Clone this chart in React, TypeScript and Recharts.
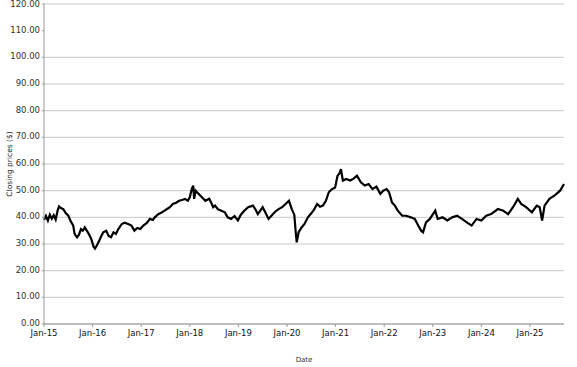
import React from "react";
import {
  LineChart,
  Line,
  XAxis,
  YAxis,
  CartesianGrid,
} from "recharts";

// years since Jan 2015
const yearsSince2015 = [
  0.0, 0.04, 0.08, 0.12, 0.16, 0.2, 0.24, 0.28, 0.31, 0.35, 0.4, 0.45, 0.5,
  0.55, 0.6, 0.63, 0.68, 0.72, 0.76, 0.8, 0.84, 0.88, 0.92, 0.97, 1.02, 1.05,
  1.09, 1.13, 1.18, 1.22, 1.28, 1.33, 1.38, 1.43, 1.48, 1.53, 1.6, 1.66, 1.73,
  1.8, 1.86, 1.92, 1.98, 2.05, 2.12, 2.18, 2.24, 2.28, 2.35, 2.42, 2.48, 2.54,
  2.59, 2.65, 2.72, 2.78, 2.84, 2.9, 2.96, 3.0, 3.04, 3.07, 3.09, 3.12, 3.18,
  3.25, 3.32, 3.4, 3.44, 3.48, 3.52, 3.58, 3.65, 3.72, 3.78, 3.85, 3.92, 3.99,
  4.05, 4.12, 4.2, 4.3, 4.35, 4.4, 4.45, 4.5, 4.55, 4.62, 4.68, 4.75, 4.82,
  4.9, 4.97, 5.04, 5.1, 5.15, 5.18, 5.2, 5.24, 5.3, 5.36, 5.43, 5.5, 5.56,
  5.62, 5.68, 5.74, 5.8, 5.86, 5.92, 5.99, 6.04, 6.08, 6.11, 6.15, 6.22, 6.3,
  6.37, 6.44, 6.52, 6.6, 6.68, 6.76, 6.84, 6.92, 6.98, 7.05, 7.1, 7.16, 7.22,
  7.28, 7.37, 7.45, 7.55, 7.63, 7.7, 7.76, 7.8, 7.86, 7.94, 8.05, 8.1, 8.2,
  8.3, 8.4, 8.5, 8.6, 8.7, 8.8, 8.9, 9.0, 9.1, 9.2, 9.34, 9.45, 9.55, 9.65,
  9.75, 9.82, 9.92, 10.04, 10.14, 10.2, 10.25, 10.3, 10.4, 10.5, 10.62, 10.7,
];

const closingPrices = [
  39.0, 40.5, 38.8, 41.0, 39.5, 40.8, 39.2, 42.5, 44.1, 43.5, 43.0, 41.5, 40.6,
  38.5, 37.0, 33.8, 32.5, 33.5, 35.6, 35.0, 36.2, 35.0, 33.8, 32.0, 29.0, 28.3,
  29.5, 31.0, 33.0, 34.4, 35.0, 33.0, 32.5, 34.4, 33.8, 35.6, 37.5, 38.0, 37.5,
  36.9, 35.0, 36.0, 35.6, 37.0, 38.0, 39.4, 39.0, 40.0, 41.2, 41.8, 42.5, 43.2,
  43.8, 45.0, 45.5, 46.2, 46.5, 46.9, 46.2, 47.5, 50.6, 51.9, 46.9, 50.0, 48.8,
  47.5, 46.2, 47.0, 45.5, 43.8, 44.4, 43.0, 42.5, 41.9, 40.0, 39.4, 40.5, 38.8,
  41.0, 42.5, 43.8, 44.4, 43.0, 41.2, 42.5, 43.8, 42.0, 39.4, 40.6, 42.0, 43.0,
  43.8, 45.0, 46.2, 43.0, 41.0, 34.4, 30.6, 34.4, 36.2, 37.5, 40.0, 41.5, 43.0,
  45.0, 44.0, 44.4, 46.2, 49.4, 50.5, 51.2, 55.6, 56.5, 58.1, 53.8, 54.4, 53.8,
  54.5, 55.6, 53.1, 51.9, 52.5, 50.6, 51.5, 48.8, 50.0, 50.6, 49.4, 45.6, 44.4,
  42.5, 40.6, 40.6, 40.0, 39.4, 36.9, 35.0, 34.4, 38.1, 39.4, 42.5, 39.4, 40.0,
  38.8, 40.0, 40.6, 39.4, 38.1, 36.9, 39.4, 38.8, 40.6, 41.2, 43.1, 42.5, 41.2,
  43.8, 46.9, 45.0, 43.8, 41.9, 44.4, 43.8, 38.8, 44.4, 46.9, 48.1, 50.0, 52.5,
];

const yearTicks = [0, 1, 2, 3, 4, 5, 6, 7, 8, 9, 10];
const priceTicks = [0, 10, 20, 30, 40, 50, 60, 70, 80, 90, 100, 110, 120];

const data = yearsSince2015.map((t, i) => ({ t, close: closingPrices[i] }));

const font = "'DejaVu Sans', sans-serif";

export default function App() {
  return (
    <div style={{ position: "absolute", left: 0, top: 0 }}>
      <LineChart
        width={577}
        height={367}
        data={data}
        margin={{ top: 4, right: 13, bottom: 0, left: 0 }}
      >
        <CartesianGrid vertical={false} stroke="#c8c8c8" />
        <XAxis
          dataKey="t"
          type="number"
          domain={[0, 10.7]}
          ticks={yearTicks}
          tickFormatter={(t) => `Jan-${15 + t}`}
          height={43}
          axisLine={{ stroke: "#999" }}
          tickLine={{ stroke: "#999" }}
          tickSize={3}
          tick={{ fontSize: 8.5, fill: "#111", fontFamily: font, dy: 1 }}
          label={{
            value: "Date",
            position: "insideBottom",
            offset: 5,
            fontSize: 7,
            fill: "#333",
            fontFamily: font,
          }}
        />
        <YAxis
          domain={[0, 120]}
          ticks={priceTicks}
          tickFormatter={(v) => v.toFixed(2)}
          width={44}
          axisLine={{ stroke: "#999" }}
          tickLine={{ stroke: "#999" }}
          tickSize={2}
          tick={{ fontSize: 8.5, fill: "#333", fontFamily: font, dy: -1 }}
          label={{
            value: "Closing prices ($)",
            angle: -90,
            position: "insideLeft",
            offset: 9,
            style: { textAnchor: "middle" },
            fontSize: 7.5,
            fill: "#222",
            fontFamily: font,
          }}
        />
        <YAxis
          yAxisId="frame"
          orientation="right"
          width={0}
          tick={false}
          tickLine={false}
          axisLine={{ stroke: "#999" }}
        />
        <Line
          type="linear"
          dataKey="close"
          stroke="#000"
          strokeWidth={2.2}
          dot={false}
          isAnimationActive={false}
        />
      </LineChart>
    </div>
  );
}
